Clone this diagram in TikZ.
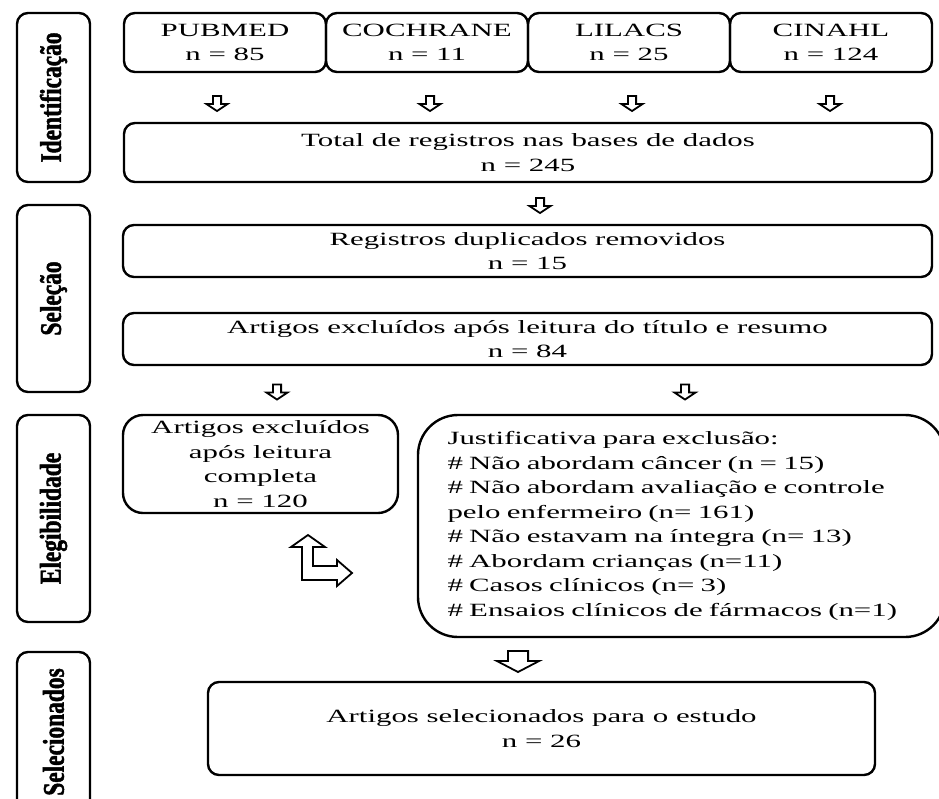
\documentclass[tikz,border=0pt]{standalone}
\usepackage{fontspec}
\setmainfont[FakeStretch=1.65]{Liberation Serif}
\newfontfamily\stagefont[FakeStretch=0.78, FakeBold=1.5]{Liberation Serif}
\usepackage{tikz}
\tikzset{box/.style={draw, line width=2.4pt, rounded corners=11pt, align=center,
   font=\fontsize{18.7}{24.5}\selectfont, inner sep=0pt},
 stage/.style={box, rotate=90, minimum height=73pt,
   font=\stagefont\bfseries\fontsize{30}{30}\selectfont},
 blockline/.style={draw, line width=1.8pt, line join=miter},
 downarr/.pic={\draw[blockline] (-4.1,-7.1) -- (4.1,-7.1) -- (4.1,1) -- (10.6,1) -- (0,8)
   -- (-10.6,1) -- (-4.1,1) -- cycle;},
 bigarr/.pic={\draw[blockline] (-10.1,-10.6) -- (10.1,-10.6) -- (10.1,-0.5) -- (21.1,-0.5)
   -- (0,10.5) -- (-21.1,-0.5) -- (-10.1,-0.5) -- cycle;},
 }

\begin{document}
\begin{tikzpicture}[x=1pt, y=-1pt]
        \useasboundingbox (0,0) rectangle (939,798);
        \clip (0,0) rectangle (939,798);
        \node[stage, minimum width=169pt] (ident) at (53.5,97.5) {Identificação};
        \node[stage, minimum width=187pt] (selec) at (53.5,298.5) {Seleção};
        \node[stage, minimum width=207pt] (eleg) at (53.5,518.5) {Elegibilidade};
        \node[stage, minimum width=160pt] (incl) at (53.5,732) {Selecionados};
        \node[box, minimum width=202pt, minimum height=59pt] (pubmed) at (225,42.5) {PUBMED\\n = 85};
        \node[box, minimum width=202pt, minimum height=59pt] (cochrane) at (427,42.5) {COCHRANE\\n = 11};
        \node[box, minimum width=202pt, minimum height=59pt] (lilacs) at (629,42.5) {LILACS\\n = 25};
        \node[box, minimum width=202pt, minimum height=59pt] (cinahl) at (831,42.5) {CINAHL\\n = 124};
        \pic (a1) at (217,103) {downarr};
        \pic (a2) at (430,103) {downarr};
        \pic (a3) at (632,103) {downarr};
        \pic (a4) at (830,103) {downarr};
        \node[box, minimum width=808pt, minimum height=59pt] (total) at (528,152.5) {Total de registros nas bases de dados\\n = 245};
        \pic (a5) at (540,205) {downarr};
        \node[box, minimum width=809pt, minimum height=52pt] (dupl) at (527.5,251) {Registros duplicados removidos\\n = 15};
        \node[box, minimum width=809pt, minimum height=52pt] (title) at (527.5,339) {Artigos excluídos após leitura do título e resumo\\n = 84};
        \pic (a6) at (277,391.5) {downarr};
        \pic (a7) at (685,391.5) {downarr};
        \node[box, rounded corners=20pt, minimum width=275pt, minimum height=98pt] (fulltext) at (260.5,464) {Artigos excluídos\\após leitura\\completa\\n = 120};
        \node[box, align=left, rounded corners=40pt, minimum width=527pt, minimum height=222pt, text width=468pt] (reasons) at (681.5,526) {Justificativa para exclusão:\\\# Não abordam câncer (n = 15)\\\# Não abordam avaliação e controle\\pelo enfermeiro (n= 161)\\\# Não estavam na íntegra (n= 13)\\\# Abordam crianças (n=11)\\\# Casos clínicos (n= 3)\\\# Ensaios clínicos de fármacos (n=1)};
        \coordinate (lturn) at (308,535);
        \draw[blockline] (lturn) -- ++(17,12) -- ++(-12,0) -- ++(0,19) -- ++(24,0) -- ++(0,-6)
            -- ++(15,13) -- ++(-15,13) -- ++(0,-6) -- ++(-35,0) -- ++(0,-33) -- ++(-11,0) -- cycle;
        \pic (a8) at (518,661.5) {bigarr};
        \node[box, minimum width=667pt, minimum height=93pt] (final) at (541.5,728.5) {Artigos selecionados para o estudo\\n = 26};
\end{tikzpicture}
\end{document}
